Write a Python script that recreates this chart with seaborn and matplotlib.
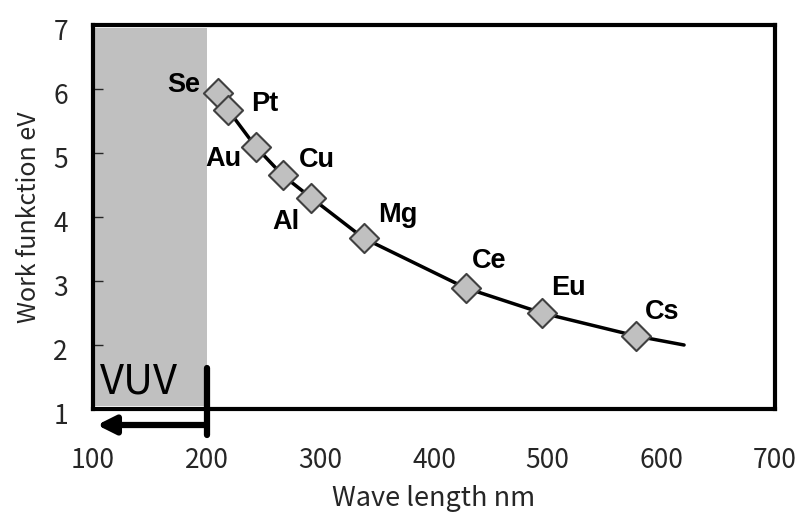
import matplotlib
matplotlib.use("Agg")
import matplotlib.pyplot as plt
import matplotlib.transforms as mtransforms
import seaborn as sns
import pandas as pd

metals = ["Se", "Pt", "Au", "Cu", "Al", "Mg", "Ce", "Eu", "Cs"]
wavelength = [210, 219, 243, 267, 292, 338, 428, 495, 578]
work_function = [5.94, 5.67, 5.1, 4.65, 4.3, 3.67, 2.89, 2.5, 2.14]
curve_x = [206, 210, 219, 243, 267, 292, 338, 428, 495, 578, 620]
curve_y = [6.02, 5.94, 5.67, 5.1, 4.65, 4.3, 3.67, 2.89, 2.5, 2.14, 2.0]
label_offsets = [(-24.5, 5.7), (26.4, 4.2), (-23, -9.1), (24.3, 11.2), (-18, -17.5),
                 (25, 17), (16.5, 19.4), (19.4, 18), (18.8, 17)]
xticks = [100, 200, 300, 400, 500, 600, 700]
yticks = [1, 2, 3, 4, 5, 6, 7]

sns.set_theme(style="white")
plt.rcParams['font.family'] = ['Noto Sans CJK JP', 'DejaVu Sans']

fig = plt.figure(figsize=(8.0, 5.15), dpi=100)
ax = fig.add_axes([93/800, 1 - 409/515, (775-93)/800, (409-25)/515])

ax.axvspan(100, 200, ymin=0.008, ymax=0.993, color="#c0c0c0", lw=0, zorder=0)

df_curve = pd.DataFrame({"x": curve_x, "y": curve_y})
sns.lineplot(data=df_curve, x="x", y="y", ax=ax, color="black", lw=2.5, sort=False, zorder=2)
df = pd.DataFrame({"wl": wavelength, "wf": work_function, "m": metals})
sns.scatterplot(data=df, x="wl", y="wf", ax=ax, marker="D", s=220, color="#c0c0c0",
                edgecolor="#404040", linewidth=1.5, zorder=3)

for m, x, y, (dx, dy) in zip(metals, wavelength, work_function, label_offsets):
    ax.annotate(m, (x, y), xytext=(dx, dy), textcoords="offset points", ha="center", va="center",
                fontsize=19.5, fontweight="bold", color="black", family=["Liberation Sans", "DejaVu Sans"])

ax.set_xlim(100, 700)
ax.set_ylim(1, 7)
ax.set_xticks(xticks)
ax.set_yticks(yticks)
ax.tick_params(axis="y", direction="in", length=7, width=1, left=True, labelsize=19, pad=18)
ax.tick_params(axis="x", length=0, labelsize=19, pad=27)
shift = mtransforms.ScaledTranslation(0, -4/100, fig.dpi_scale_trans)
for lab in ax.get_yticklabels():
    lab.set_transform(lab.get_transform() + shift)
for s in ax.spines.values():
    s.set_color("black")
    s.set_linewidth(3)

ax.set_xlabel("Wave length nm", fontsize=19.5, labelpad=8)
ax.set_ylabel("Work funkction eV", fontsize=18, labelpad=8)

ax.text(106, 1.42, "VUV", fontsize=30, ha="left", va="center", color="black")
ax.plot([200, 200], [1.64, 0.6], color="black", lw=4.5, clip_on=False, zorder=5)
ax.annotate("", xy=(101, 0.75), xytext=(201, 0.75), xycoords="data",
            arrowprops=dict(arrowstyle="-|>,head_length=0.9,head_width=0.45", color="black", lw=4.5),
            annotation_clip=False)

fig.savefig("out.png", dpi=100)
